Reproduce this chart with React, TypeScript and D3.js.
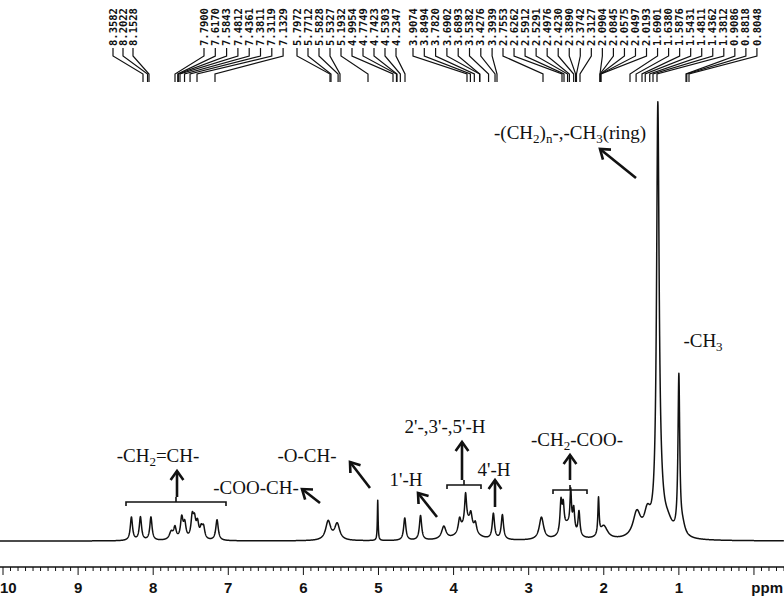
import React from "react";
import * as d3 from "d3";

// ---- peak list (ppm on the axis, relative intensity %, half width ppm)
const peakPpm = [8.29, 8.17, 8.03, 7.76, 7.71, 7.62, 7.58, 7.48, 7.45, 7.41, 7.36, 7.33, 7.15,
  5.67, 5.55, 5.01, 4.65, 4.44, 4.13, 3.82, 3.92, 3.84, 3.77, 3.71, 3.47, 3.35, 2.83,
  2.57, 2.54, 2.44, 2.40, 2.33, 2.48, 2.07, 2.00, 1.56, 1.42, 1.28, 1.25, 1.15, 1.00, 0.95];
const peakHeight = [5.3, 5.3, 5.3, 1.8, 2.6, 4.8, 3.4, 4.8, 3.8, 3.4, 2.2, 2.6, 4.7,
  4.3, 3.7, 9.2, 5.1, 5.6, 2.9, 4.0, 3.0, 6.6, 3.0, 2.2, 5.8, 5.6, 5.1,
  7.0, 5.6, 8.4, 5.2, 5.6, 3.2, 8.4, 3.0, 5.7, 4.8, 93.5, 6.5, 3.0, 35.8, 2.2];
const peakWidth = [0.018, 0.018, 0.018, 0.03, 0.02, 0.02, 0.02, 0.02, 0.02, 0.02, 0.02, 0.02, 0.02,
  0.04, 0.04, 0.006, 0.018, 0.018, 0.035, 0.1, 0.02, 0.015, 0.02, 0.02, 0.018, 0.018, 0.035,
  0.015, 0.015, 0.012, 0.015, 0.015, 0.08, 0.01, 0.06, 0.06, 0.05, 0.02, 0.05, 0.08, 0.014, 0.04];

// ---- printed chemical shift labels (top), by group
const shiftGroups = [
  ["8.3582", "8.2022", "8.1528"],
  ["7.7900", "7.6170", "7.5843", "7.4812", "7.4361", "7.3811", "7.3119", "7.1329"],
  ["5.7972", "5.7712", "5.5828", "5.5327", "5.1932", "4.9954", "4.7749", "4.7423", "4.5303", "4.2347"],
  ["3.9074", "3.8494", "3.7820", "3.6902", "3.6893", "3.5382", "3.4276", "3.3939"],
  ["2.7553", "2.6262", "2.5912", "2.5291", "2.4976", "2.4230", "2.3890", "2.3742", "2.3127",
    "2.0904", "2.0845", "2.0575", "2.0497", "2.0193", "1.6901", "1.6380", "1.5876", "1.5431",
    "1.4811", "1.4362", "1.3812", "0.9086", "0.8818", "0.8048"],
];

const axisLabels = ["10", "9", "8", "7", "6", "5", "4", "3", "2", "1"];

const W = 784, H = 598;
const x = d3.scaleLinear().domain([10.04, -0.4]).range([0, W]);
const y = d3.scaleLinear().domain([0, 100]).range([541, 102]);

// mapping of printed shifts to the foot of their leader lines
const leaderScale = d3.scaleLinear()
  .domain([8.3582, 8.1528, 7.79, 7.4812, 7.1329, 5.7972, 5.5327, 5.1932, 4.9954, 4.2347, 3.9074, 3.3939, 2.7553, 2.6262, 2.3127, 2.0904, 2.0193, 1.6901, 1.5876, 1.3812, 0.9086, 0.8048])
  .range([143, 149, 175, 180, 215, 330, 340, 368, 393, 405, 467, 497, 543, 562, 580, 600, 601, 630, 642, 657, 686, 689]);
const groupStart = [113, 204, 297, 413, 503];
const groupStep = [10, 11.3, 11, 11.3, 11.04];

function intensity(p: number) {
  let s = 0;
  for (let i = 0; i < peakPpm.length; i++) {
    const d = p - peakPpm[i];
    const w = peakWidth[i];
    s += peakHeight[i] * (w * w) / (d * d + w * w);
  }
  return s;
}

function Arrow({ x1, y1, x2, y2 }: { x1: number; y1: number; x2: number; y2: number }) {
  const a = Math.atan2(y2 - y1, x2 - x1);
  const L = 11, t = 0.62;
  const p1 = [x2 - L * Math.cos(a - t), y2 - L * Math.sin(a - t)];
  const p2 = [x2 - L * Math.cos(a + t), y2 - L * Math.sin(a + t)];
  return (
    <g stroke="#111" strokeWidth={2.6} fill="none" strokeLinecap="butt" strokeLinejoin="miter">
      <line x1={x1} y1={y1} x2={x2} y2={y2} />
      <polyline points={`${p1[0]},${p1[1]} ${x2},${y2} ${p2[0]},${p2[1]}`} />
    </g>
  );
}

function Bracket({ x1, x2, yy }: { x1: number; x2: number; yy: number }) {
  return (
    <path d={`M${x1},${yy + 4}V${yy}H${x2}V${yy + 4}M${(x1 + x2) / 2},${yy}V${yy - 5}`}
      stroke="#111" strokeWidth={1.6} fill="none" />
  );
}

const sub = { fontSize: 13, baselineShift: "-4px" } as any;

export default function App() {
  const grid = d3.range(10.04, -0.4, -0.002);
  const line = d3.line<number>().x((p) => x(p)).y((p) => y(intensity(p)));
  const minor = d3.range(-4, 101).map((i) => i / 10);

  const labels: { text: string; lx: number; bx: number }[] = [];
  shiftGroups.forEach((g, gi) => {
    g.forEach((t, i) => {
      labels.push({ text: t, lx: groupStart[gi] + i * groupStep[gi], bx: leaderScale(+t) });
    });
  });

  const serif = "'Liberation Serif', 'Times New Roman', serif";

  return (
    <svg width={W} height={H} style={{ position: "absolute", left: 0, top: 0, background: "#fff" }}>
      <rect width={W} height={H} fill="#fff" />
      {/* leader labels */}
      <g fontFamily="'DejaVu Sans Mono', monospace" fontWeight="bold" fontSize={10.5} fill="#111">
        {labels.map((l, i) => (
          <g key={i}>
            <text transform={`translate(${l.lx + 3.6},46) rotate(-90)`}>{l.text}</text>
            <path d={`M${l.lx},48V56L${l.bx},74V82`} stroke="#111" strokeWidth={1.2} fill="none" />
          </g>
        ))}
      </g>

      {/* spectrum */}
      <path d={line(grid) || ""} fill="none" stroke="#111" strokeWidth={1.5} strokeLinejoin="round" />

      {/* x axis */}
      <line x1={0} x2={W} y1={567} y2={567} stroke="#111" strokeWidth={1.4} />
      {minor.map((p, i) => {
        const major = Math.abs(p - Math.round(p)) < 1e-6;
        return <line key={i} x1={x(p)} x2={x(p)} y1={567} y2={major ? 575 : 571} stroke="#111" strokeWidth={1} />;
      })}
      <g fontFamily="'Liberation Sans', Arial, sans-serif" fontWeight="bold" fontSize={15} fill="#111" textAnchor="middle">
        {axisLabels.map((t) => (
          t === "10"
            ? <text key={t} x={0} y={593} textAnchor="start">{t}</text>
            : <text key={t} x={x(+t)} y={593}>{t}</text>
        ))}
        <text x={783} y={593} textAnchor="end">ppm</text>
      </g>

      {/* annotations */}
      <g fontFamily={serif} fontSize={19} fill="#111" textAnchor="middle">
        <text x={570} y={139}>-(CH<tspan style={sub}>2</tspan><tspan>)</tspan><tspan style={sub}>n</tspan><tspan>-,-CH</tspan><tspan style={sub}>3</tspan><tspan>(ring)</tspan></text>
        <Arrow x1={636} y1={178} x2={600} y2={149} />

        <text x={703} y={347}>-CH<tspan style={sub}>3</tspan></text>

        <text x={158} y={462}>-CH<tspan style={sub}>2</tspan><tspan>=CH-</tspan></text>
        <Arrow x1={177} y1={497} x2={177} y2={471} />
        <Bracket x1={126} x2={226} yy={502} />

        <text x={256} y={494}>-COO-CH-</text>
        <Arrow x1={320} y1={503} x2={302} y2={489} />

        <text x={307} y={462}>-O-CH-</text>
        <Arrow x1={370} y1={488} x2={350} y2={462} />

        <text x={406} y={486}>1'-H</text>
        <Arrow x1={437} y1={517} x2={418} y2={493} />

        <text x={445} y={433}>2'-,3'-,5'-H</text>
        <Arrow x1={462} y1={480} x2={462} y2={442} />
        <Bracket x1={447} x2={481} yy={485} />

        <text x={494} y={476}>4'-H</text>
        <Arrow x1={495} y1={507} x2={495} y2={480} />

        <text x={577} y={446}>-CH<tspan style={sub}>2</tspan><tspan>-COO-</tspan></text>
        <Arrow x1={570} y1={480} x2={570} y2={455} />
        <Bracket x1={553} x2={587} yy={490} />
      </g>
    </svg>
  );
}
